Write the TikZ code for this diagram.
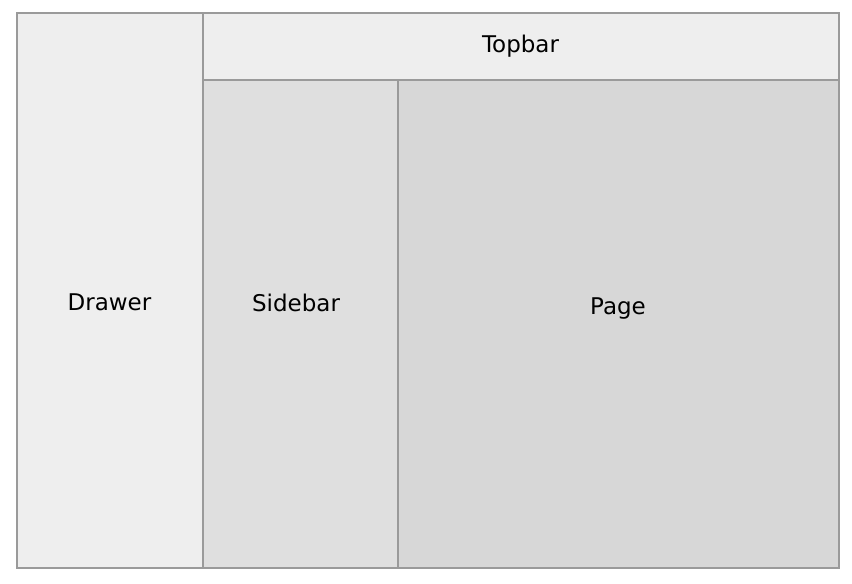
\documentclass[tikz,border=0pt]{standalone}
\usepackage{fontspec}
\setmainfont{DejaVu Sans}
\definecolor{edge}{HTML}{9A9A9A}
\definecolor{fillA}{HTML}{EEEEEE}
\definecolor{fillB}{HTML}{DFDFDF}
\definecolor{fillC}{HTML}{D7D7D7}
\tikzset{
  panel/.style={draw=edge, line width=2pt},
  lbl/.style={anchor=base, inner sep=0pt, font=\fontsize{23}{26}\selectfont, text=black}
}
\begin{document}
\begin{tikzpicture}[x=1pt,y=-1pt]
\useasboundingbox (0,0) rectangle (852,584);
% panels
\path[panel, fill=fillA] (17,12.5) rectangle (202.5,567.5);
\path[panel, fill=fillA] (202.5,12.5) rectangle (838.5,79.5);
\path[panel, fill=fillB] (202.5,79.5) rectangle (397.5,567.5);
\path[panel, fill=fillC] (397.5,79.5) rectangle (838.5,567.5);
% labels
\node[lbl] (drawer) at (109.5,310.5) {Drawer};
\node[lbl] (topbar) at (520.5,52.3) {Topbar};
\node[lbl] (sidebar) at (296,311.5) {Sidebar};
\node[lbl] (page) at (618,314.3) {Page};
\end{tikzpicture}
\end{document}
